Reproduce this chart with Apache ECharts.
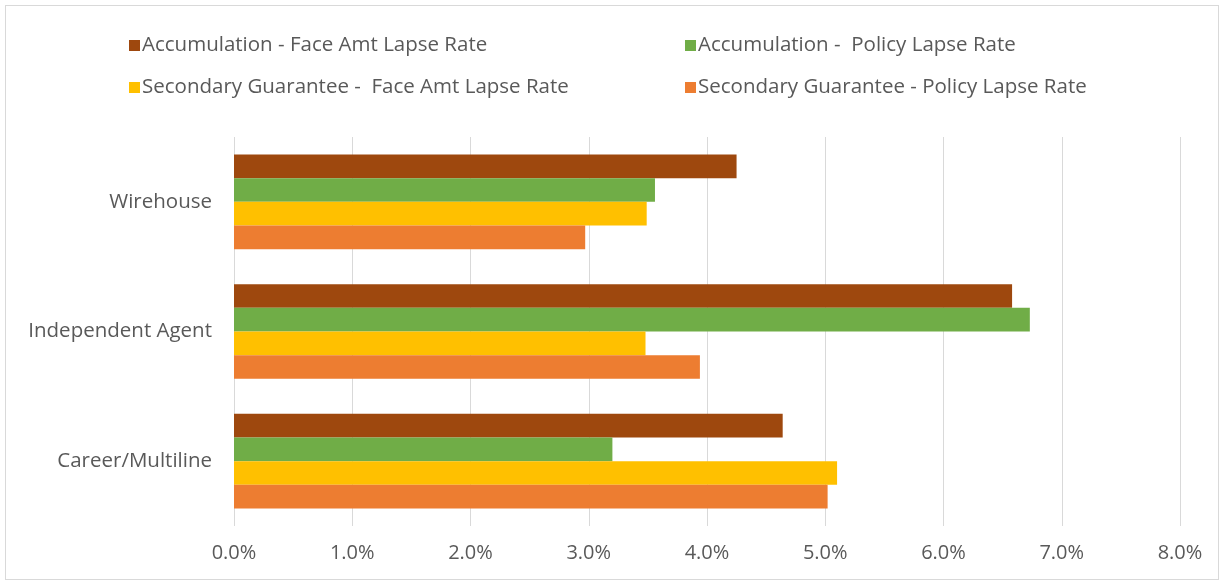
<!DOCTYPE html>
<html>
<head>
<meta charset="utf-8">
<script src="https://cdn.jsdelivr.net/npm/echarts@6/dist/echarts.min.js"></script>
<style>
html,body{margin:0;padding:0;background:#fff;}
#frame{position:absolute;left:5px;top:5px;width:1214px;height:575px;border:1px solid #d9d9d9;box-sizing:border-box;}
#chart{position:absolute;left:0;top:0;width:1224px;height:586px;}
</style>
</head>
<body>
<div id="frame"></div>
<div id="chart"></div>
<script>
const categories = ['Wirehouse', 'Independent Agent', 'Career/Multiline'];
const seriesNames = [
  'Accumulation - Face Amt Lapse Rate',
  'Accumulation -  Policy Lapse Rate',
  'Secondary Guarantee -  Face Amt Lapse Rate',
  'Secondary Guarantee - Policy Lapse Rate'
];
const accumFace = [4.25, 6.58, 4.64];
const accumPolicy = [3.56, 6.73, 3.20];
const sgFace = [3.49, 3.48, 5.10];
const sgPolicy = [2.97, 3.94, 5.02];
const xTicks = [0, 1, 2, 3, 4, 5, 6, 7, 8];

const colors = ['#9E480E', '#70AD47', '#FFC000', '#ED7D31'];
const values = [accumFace, accumPolicy, sgFace, sgPolicy];
const font = '"Open Sans", Lato, sans-serif';

const chart = echarts.init(document.getElementById('chart'));
chart.setOption({
  animation: false,
  textStyle: {fontFamily: font},
  legend: [
    {
      left: 124, top: 30, orient: 'vertical', itemGap: 21,
      itemWidth: 11, itemHeight: 11, icon: 'rect',
      textStyle: {color: '#595959', fontSize: 20.5, fontFamily: font, padding: [0,0,0,-3]},
      data: [seriesNames[0], seriesNames[2]]
    },
    {
      left: 680, top: 30, orient: 'vertical', itemGap: 21,
      itemWidth: 11, itemHeight: 11, icon: 'rect',
      textStyle: {color: '#595959', fontSize: 20.5, fontFamily: font, padding: [0,0,0,-3]},
      data: [seriesNames[1], seriesNames[3]]
    }
  ],
  grid: {left: 234, right: 44, top: 137, height: 389, containLabel: false},
  xAxis: {
    type: 'value', min: 0, max: 8, interval: 1,
    axisLine: {show: false}, axisTick: {show: false},
    splitLine: {lineStyle: {color: '#d9d9d9', width: 1}},
    axisLabel: {
      color: '#595959', fontSize: 20, margin: 17, fontFamily: font,
      formatter: v => v.toFixed(1) + '%'
    },
    data: xTicks
  },
  yAxis: {
    type: 'category', inverse: true, data: categories,
    axisLine: {show: false}, axisTick: {show: false},
    axisLabel: {color: '#595959', fontSize: 20.5, margin: 22, fontFamily: font}
  },
  series: seriesNames.map((n, i) => ({
    name: n, type: 'bar', data: values[i],
    itemStyle: {color: colors[i]},
    barGap: '0%', barCategoryGap: '27%'
  }))
});
</script>
</body>
</html>
